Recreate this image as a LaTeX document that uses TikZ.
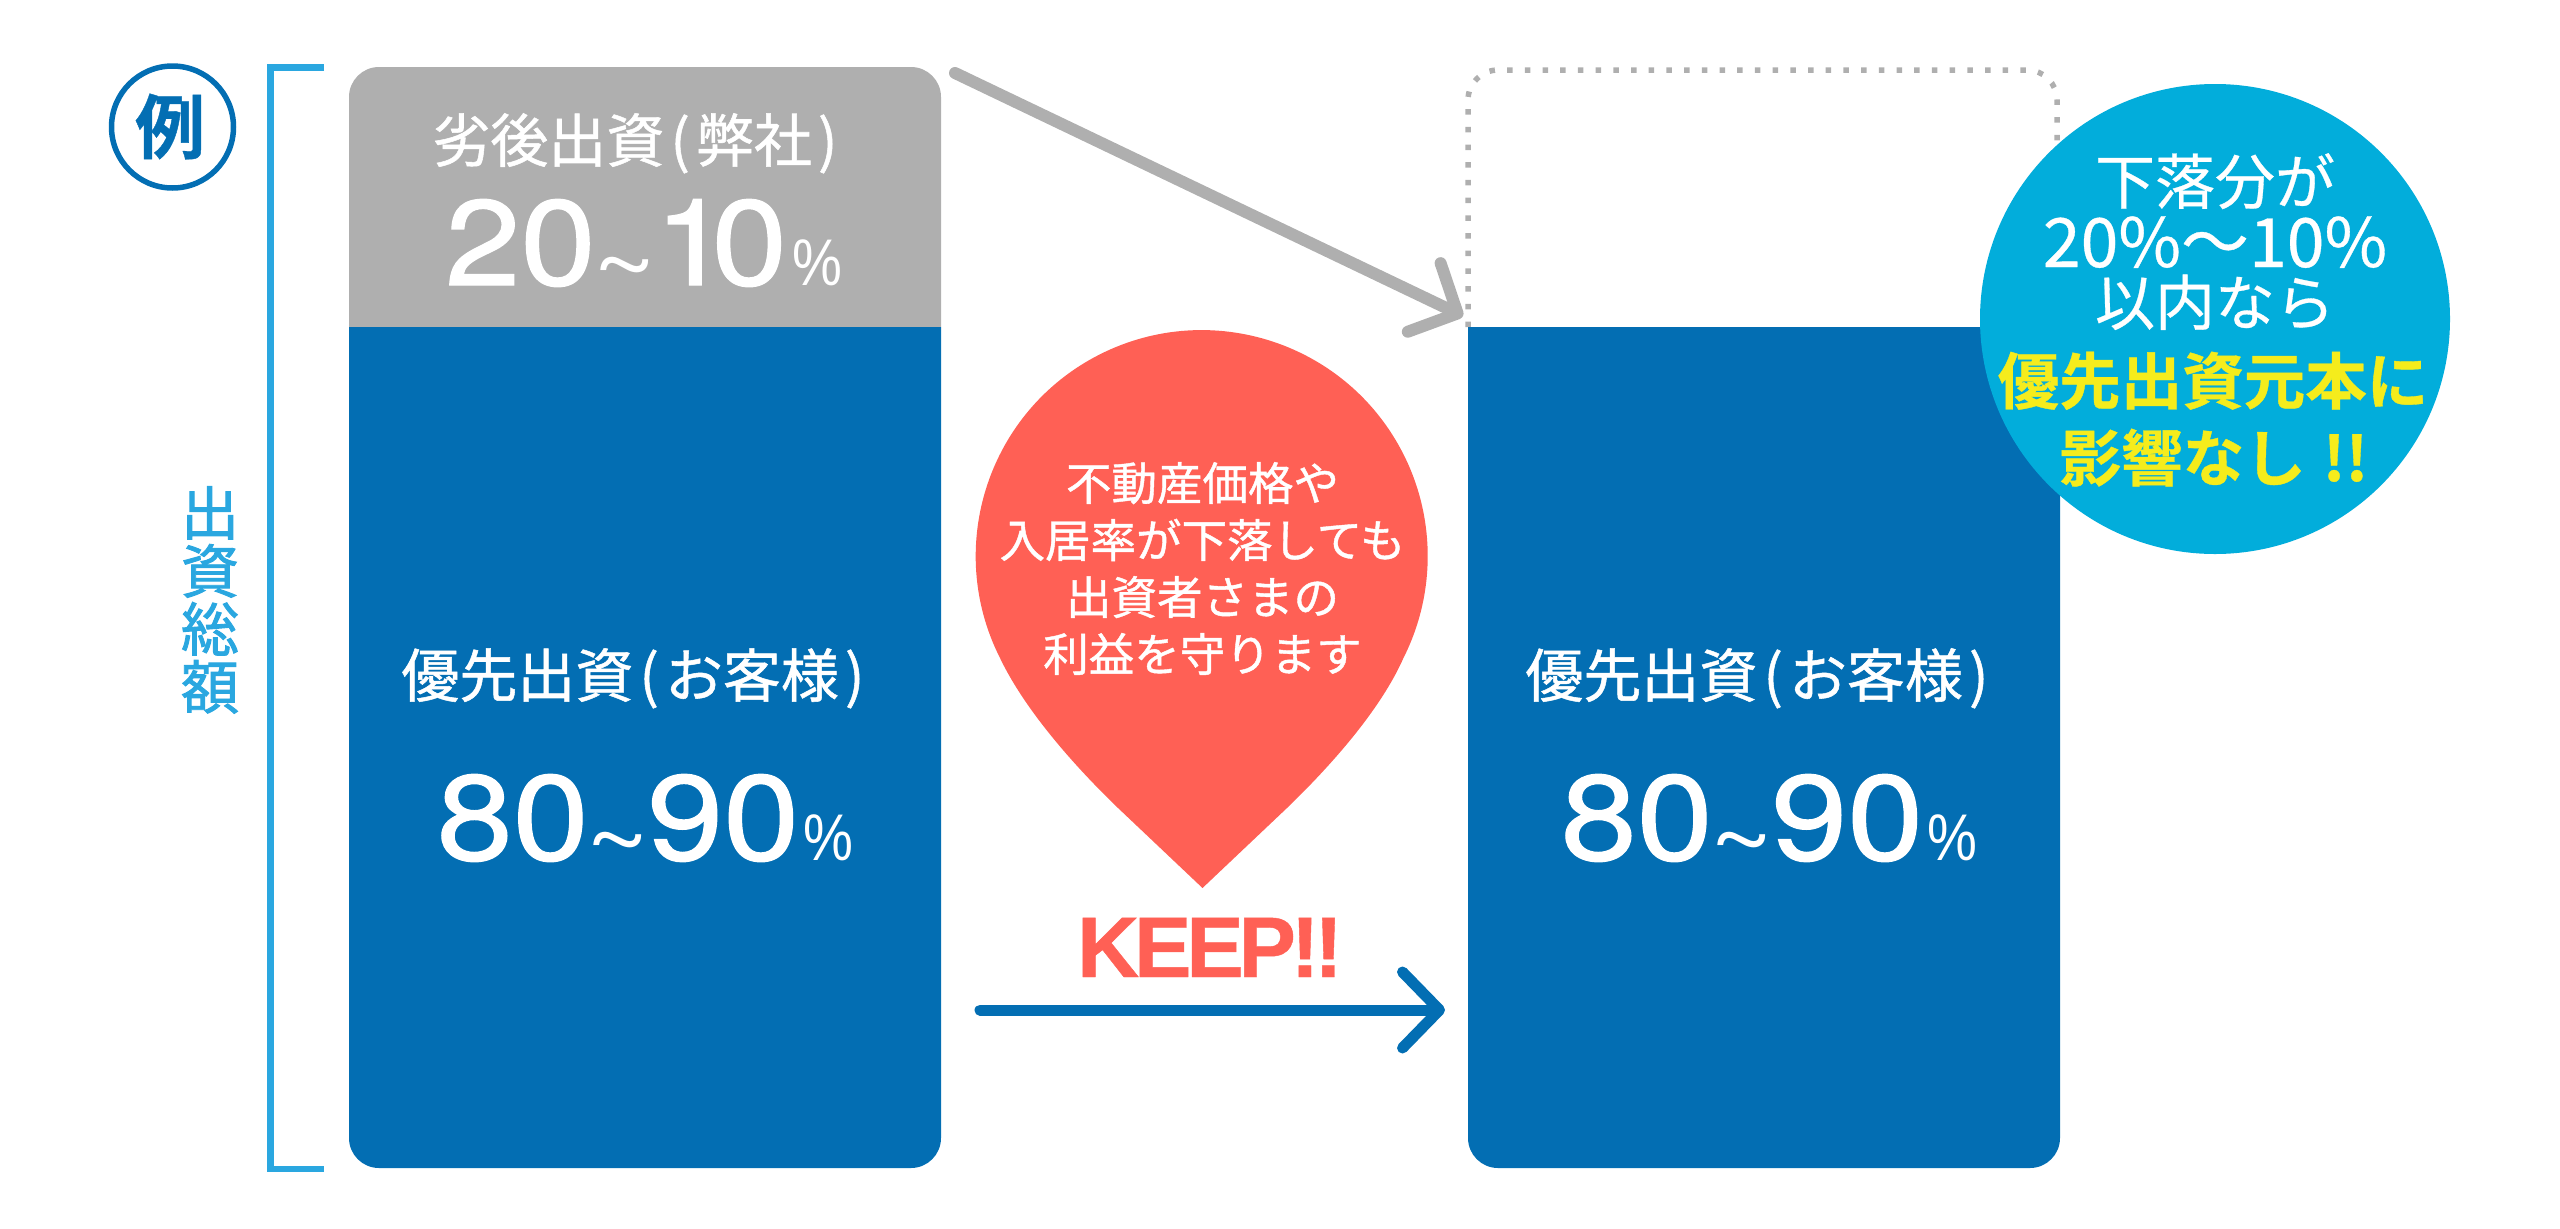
\documentclass[tikz,border=0pt]{standalone}
\usepackage{fontspec}
\usetikzlibrary{arrows.meta}
\setmainfont{Liberation Sans}
\newfontfamily\cjk[FakeBold=0.9]{Noto Sans CJK JP}
\newfontfamily\cjkh[FakeBold=1.6]{Noto Sans CJK JP}
\newfontfamily\cjkl[FakeBold=0.5]{Noto Sans CJK JP}
\newfontfamily\cjkb[FakeBold=0.6]{Noto Sans CJK JP Bold}
\newfontfamily\numA[FakeStretch=1.12,FakeBold=1.0]{TeX Gyre Heros}
\newfontfamily\numB[FakeStretch=1.13,FakeBold=1.0]{TeX Gyre Heros}
\newfontfamily\wave[FakeStretch=1.2]{TeX Gyre Heros}
\newfontfamily\pct[FakeStretch=.85]{Liberation Sans}
\newfontfamily\keepf[LetterSpace=-6,FakeBold=0.5]{Liberation Sans Bold}
\newcommand{\fsz}[1]{\fontsize{#1}{#1}\selectfont}
\newcommand{\pr}[1]{\kern6pt #1\kern6pt}
\definecolor{mainblue}{HTML}{036EB3}
\definecolor{softgray}{HTML}{AFAFAF}
\definecolor{pinred}{HTML}{FF6055}
\definecolor{skyblue}{HTML}{02ADDB}
\definecolor{brackblue}{HTML}{2AA7E0}
\definecolor{sunyellow}{HTML}{F5EC1C}
\tikzset{
  lbl/.style={inner sep=0pt,outer sep=0pt,anchor=base,text=white},
  conn/.style={line cap=round,-{Straight Barb[length=37pt,width=76pt,round]}},
}
\begin{document}
\begin{tikzpicture}[x=1pt,y=-1pt]
\useasboundingbox (0,0) rectangle (2560,1229);
% bracket
\draw[brackblue,line width=6.5pt,line join=miter] (324,67.5) -- (270.5,67.5) -- (270.5,1169) -- (324,1169);
% example mark
\node[circle,draw=mainblue,line width=5.5pt,minimum size=122pt,inner sep=0pt,outer sep=0pt] (rei) at (172.5,127) {};
\node[lbl,text=mainblue] (reit) at (170,153) {\cjkb\fsz{70}例};
\node[inner sep=0pt,align=center,text=brackblue,font=\cjkh\fontsize{58}{58}\selectfont] (total) at (210,600) {出\\資\\総\\額};
% left column
\fill[softgray] (349,327) [rounded corners=30pt] -- (349,67) -- (941,67) [sharp corners] -- (941,327) -- cycle;
\fill[mainblue] (349,327) [rounded corners=30pt] -- (349,1168) -- (941,1168) [sharp corners] -- (941,327) -- cycle;
\node[lbl] (subt) at (638,162) {\cjk\fsz{58}劣後出資\pr{(}弊社\pr{)}};
\node[lbl] (subv) at (644,285) {\numA\fsz{121}20\kern-3pt\raisebox{-12pt}{\wave\fsz{92}\~{}}\kern-3pt 1\kern-18pt 0\kern6pt{\pct\fsz{66}\%}};
\node[lbl] (prit) at (636,697) {\cjk\fsz{58}優先出資\pr{(}お客様\pr{)}};
\node[lbl] (priv) at (645,860) {\numB\fsz{121}80\kern-3pt\raisebox{-12pt}{\wave\fsz{92}\~{}}\kern-3pt 90\kern4pt{\pct\fsz{66}\%}};
% right column
\draw[softgray,line width=5.5pt,dash pattern=on 5.5pt off 12.2pt,rounded corners=30pt] (1468,327) -- (1468,70) -- (2057,70) -- (2057,327);
\fill[mainblue] (1468,327) [rounded corners=30pt] -- (1468,1168) -- (2060,1168) [sharp corners] -- (2060,327) -- cycle;
\node[lbl] (prit2) at (1760,697) {\cjk\fsz{58}優先出資\pr{(}お客様\pr{)}};
\node[lbl] (priv2) at (1769,860) {\numB\fsz{121}80\kern-3pt\raisebox{-12pt}{\wave\fsz{92}\~{}}\kern-3pt 90\kern4pt{\pct\fsz{66}\%}};
% arrows
\coordinate (ga) at (955,73);
\coordinate (gb) at (1463,316);
\draw[conn,softgray,line width=12pt] (ga) -- (gb);
\coordinate (ba) at (980,1010);
\coordinate (bb) at (1445,1010);
\draw[conn,mainblue,line width=11pt] (ba) -- (bb);
% pin
\fill[pinred] (1202.5,888) -- (1118,808) .. controls (1060,752) and (1020,700) .. (1000,658)
  arc[start angle=153.2,end angle=386.8,radius=226]
  .. controls (1385,700) and (1345,752) .. (1287,808) -- cycle;
\node[inner sep=0pt,align=center,text=white,font=\cjk\fontsize{45.5}{57}\selectfont] (pint) at (1202.5,568.5) {不動産価格や\\入居率が下落しても\\出資者さまの\\利益を守ります};
\node[lbl,text=pinred] (keep) at (1210,977) {\keepf\fsz{86}KEEP!!};
% balloon
\node[circle,fill=skyblue,minimum size=470pt,inner sep=0pt,outer sep=0pt] (ball) at (2215,319) {};
\node[lbl] (b1) at (2215,204) {\cjkl\fsz{60}下落分が};
\node[lbl] (b2) at (2215,267) {\cjkl\fsz{68}20\%〜10\%};
\node[lbl] (b3) at (2215,325) {\cjkl\fsz{60}以内なら};
\node[lbl,text=sunyellow] (b4) at (2213,404) {\cjkb\fsz{61.5}優先出資元本に};
\node[lbl,text=sunyellow] (b5) at (2214,481) {\cjkb\fsz{61.5}影響なし\kern3pt{} !!};
\end{tikzpicture}
\end{document}
